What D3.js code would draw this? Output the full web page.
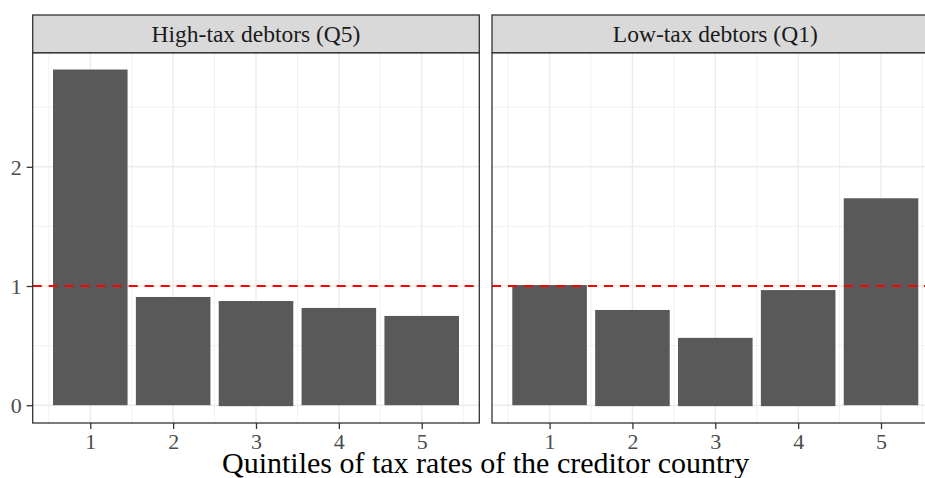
<!DOCTYPE html>
<html>
<head>
<meta charset="utf-8">
<script src="https://cdn.jsdelivr.net/npm/d3@7/dist/d3.min.js"></script>
<style>
  html, body { margin: 0; padding: 0; background: #fff; overflow: hidden; }
  text { font-family: "Liberation Serif", "Times New Roman", serif; }
</style>
</head>
<body>
<svg id="chart" width="925" height="478"></svg>
<script>
// ---- data ----
const panels = ["High-tax debtors (Q5)", "Low-tax debtors (Q1)"];
const quintiles = [1, 2, 3, 4, 5];
const highTaxValues = [2.816, 0.908, 0.874, 0.816, 0.749];
const lowTaxValues = [1.008, 0.799, 0.565, 0.966, 1.736];
const highTaxLower = [0, 0, -0.008, 0, 0];
const lowTaxLower = [0, -0.008, -0.008, -0.008, 0];
const yTicks = [0, 1, 2];
const yMinor = [0.5, 1.5, 2.5];
const referenceLine = 1;
const xTitle = "Quintiles of tax rates of the creditor country";

const series = [
  { title: panels[0], values: highTaxValues, lower: highTaxLower },
  { title: panels[1], values: lowTaxValues, lower: lowTaxLower }
];

// ---- layout ----
const svg = d3.select("#chart");
const panelW = 446.6, panelTop = 52.7, panelBottom = 423, stripTop = 15;
const panelLefts = [32.7, 492];
const barWidth = 0.9;

// ggplot-like continuous expansion (5%)
const xLo = 1 - barWidth / 2, xHi = 5 + barWidth / 2;
const xPad = (xHi - xLo) * 0.05;
const allVals = highTaxValues.concat(lowTaxValues, highTaxLower, lowTaxLower, [0]);
const yLo = d3.min(allVals), yHi = d3.max(allVals);
const yPad = (yHi - yLo) * 0.05;

const y = d3.scaleLinear().domain([yLo - yPad, yHi + yPad]).range([panelBottom, panelTop]);

const gridCol = "#EBEBEB", borderCol = "#333333", textCol = "#4D4D4D";

series.forEach((s, i) => {
  const left = panelLefts[i];
  const x = d3.scaleLinear().domain([xLo - xPad, xHi + xPad]).range([left, left + panelW]);
  const g = svg.append("g");

  // background
  g.append("rect").attr("x", left).attr("y", panelTop).attr("width", panelW)
    .attr("height", panelBottom - panelTop).attr("fill", "#fff");

  // minor grid
  const xMinor = quintiles.map(q => q - 0.5).concat([5.5]);
  g.selectAll(".xmin").data(xMinor).join("line")
    .attr("x1", d => x(d)).attr("x2", d => x(d)).attr("y1", panelTop).attr("y2", panelBottom)
    .attr("stroke", gridCol).attr("stroke-width", 0.7);
  g.selectAll(".ymin").data(yMinor).join("line")
    .attr("x1", left).attr("x2", left + panelW).attr("y1", d => y(d)).attr("y2", d => y(d))
    .attr("stroke", gridCol).attr("stroke-width", 0.7);
  // major grid
  g.selectAll(".xmaj").data(quintiles).join("line")
    .attr("x1", d => x(d)).attr("x2", d => x(d)).attr("y1", panelTop).attr("y2", panelBottom)
    .attr("stroke", gridCol).attr("stroke-width", 1.4);
  g.selectAll(".ymaj").data(yTicks).join("line")
    .attr("x1", left).attr("x2", left + panelW).attr("y1", d => y(d)).attr("y2", d => y(d))
    .attr("stroke", gridCol).attr("stroke-width", 1.4);

  // bars
  const rows = quintiles.map((q, k) => ({ q, v: s.values[k], lo: s.lower[k] }));
  g.selectAll(".bar").data(rows).join("rect")
    .attr("x", d => x(d.q - barWidth / 2))
    .attr("width", d => x(d.q + barWidth / 2) - x(d.q - barWidth / 2))
    .attr("y", d => y(d.v))
    .attr("height", d => y(d.lo) - y(d.v))
    .attr("fill", "#595959");

  // reference line
  g.append("line").attr("x1", left).attr("x2", left + panelW)
    .attr("y1", y(referenceLine)).attr("y2", y(referenceLine))
    .attr("stroke", "#FF0000").attr("stroke-width", 2).attr("stroke-dasharray", "9,7");

  // border
  g.append("rect").attr("x", left).attr("y", panelTop).attr("width", panelW)
    .attr("height", panelBottom - panelTop).attr("fill", "none")
    .attr("stroke", borderCol).attr("stroke-width", 1.3);

  // strip
  g.append("rect").attr("x", left).attr("y", stripTop).attr("width", panelW)
    .attr("height", panelTop - stripTop).attr("fill", "#D9D9D9")
    .attr("stroke", borderCol).attr("stroke-width", 1.3);
  g.append("text").attr("x", left + panelW / 2).attr("y", (stripTop + panelTop) / 2)
    .attr("dy", "0.34em").attr("text-anchor", "middle")
    .attr("font-size", 23.5).attr("fill", "#1A1A1A").text(s.title);

  // x axis
  const xAxis = d3.axisBottom(x).tickValues(quintiles).tickSize(6).tickPadding(4).tickFormat(d3.format("d"));
  const ax = g.append("g").attr("transform", `translate(0,${panelBottom})`).call(xAxis);
  ax.select(".domain").remove();
  ax.selectAll(".tick line").attr("stroke", borderCol).attr("stroke-width", 1.3);
  ax.selectAll(".tick text").attr("font-size", 22).attr("fill", textCol)
    .attr("font-family", "Liberation Serif, serif").attr("dy", "0.72em");

  // y axis (first panel only)
  if (i === 0) {
    const yAxis = d3.axisLeft(y).tickValues(yTicks).tickSize(6).tickPadding(5).tickFormat(d3.format("d"));
    const ay = g.append("g").attr("transform", `translate(${left},0)`).call(yAxis);
    ay.select(".domain").remove();
    ay.selectAll(".tick line").attr("stroke", borderCol).attr("stroke-width", 1.3);
    ay.selectAll(".tick text").attr("font-size", 22).attr("fill", textCol)
      .attr("font-family", "Liberation Serif, serif").attr("dy", "0.34em");
  }
});

// x title
svg.append("text").attr("x", (panelLefts[0] + panelLefts[1] + panelW) / 2).attr("y", 473)
  .attr("text-anchor", "middle").attr("font-size", 30).attr("fill", "#000").text(xTitle);
</script>
</body>
</html>
